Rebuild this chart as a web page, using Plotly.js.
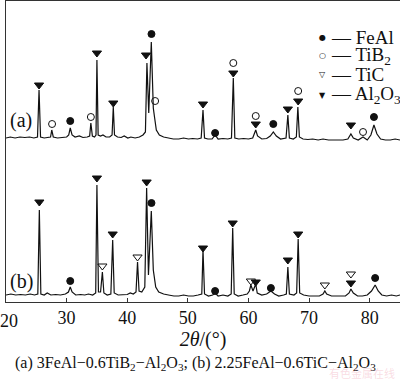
<!DOCTYPE html>
<html>
<head>
<meta charset="utf-8">
<script src="https://cdn.plot.ly/plotly-3.0.1.min.js"></script>
<style>html,body{margin:0;padding:0;background:#fff;}#chart{width:400px;height:380px;}</style>
</head>
<body>
<div id="chart"></div>
<script>
// ---- Data (2θ in degrees, intensity in arbitrary units above each pattern's baseline) ----
const twoThetaA = [20,20.7,21.5,22.3,23.1,23.9,24.6,25.2,25.45,25.7,26.3,27.0,27.35,27.55,27.8,28.5,29.3,30.0,30.35,30.6,30.9,31.4,32.1,32.7,33.4,33.8,34.0,34.25,34.6,34.85,35.0,35.2,35.6,36.0,36.5,37.1,37.5,37.7,37.9,38.4,39.0,39.5,40.1,40.6,41.3,42.0,42.6,43.0,43.25,43.55,43.97,44.3,44.5,44.8,45.3,46.0,46.8,47.6,48.5,49.3,50.1,50.8,51.6,52.2,52.5,52.75,53.3,54.0,54.5,55.0,55.8,56.6,57.2,57.5,57.75,58.4,59.2,60.0,60.7,61.0,61.2,61.5,62.2,63.0,63.6,64.1,64.6,65.3,66.2,66.5,66.75,67.4,67.9,68.15,68.4,69.0,69.8,70.6,71.5,72.3,73.2,74.0,74.8,75.6,76.4,76.9,77.3,78.1,78.9,79.6,80.2,80.7,81.2,81.8,82.6,83.4,84.2,85];
const intensityA = [0,1,0,1,0.5,1,0,1,48,1,0,1,1,8,1,0,0.5,1,3,10,3,1,2,0.5,1,2,15,2,1,3,78,3,2,3,1,1,3,31,3,1,0.5,2,0,1,0,1,3,6,75,25,96,30,21,8,3,1,0,-1,-1,0,-1,-0.5,-1,0,28,0,-1,-1,3,-1,-0.5,-1,0,60,0,-1,-0.5,-1,0,5,8,2,-1,-0.5,2,6,2,-1,0,23,0,-1,1,31,1,-1,-1.5,-1,-2,-1,-2,-2,-2,-2,-1,4,0,-2,1,-2,3,13,4,-1,-2,-2,-1,-2];

const twoThetaB = [20,20.8,21.6,22.4,23.2,24,24.7,25.25,25.5,25.75,26.3,26.8,27.4,28.2,29.0,29.8,30.3,30.6,30.9,31.5,32.3,33.0,33.6,34.3,34.8,35.0,35.25,35.6,35.9,36.15,36.7,37.3,37.6,37.85,38.5,39.3,40.0,40.5,41.0,41.45,41.7,41.95,42.4,42.9,43.2,43.5,43.97,44.3,44.7,45.2,46.0,46.8,47.7,48.5,49.3,50.1,50.9,51.7,52.3,52.5,52.75,53.4,54.1,54.5,55.0,55.8,56.6,57.15,57.4,57.65,58.3,59.1,59.8,60.15,60.4,60.75,61.2,61.45,62.2,63.0,63.7,64.3,65.0,65.8,66.25,66.5,66.75,67.5,67.95,68.2,68.45,69.1,70.0,70.8,71.7,72.3,72.6,72.9,73.7,74.5,75.3,76.0,76.6,76.9,77.3,78.0,78.8,79.6,80.3,80.9,81.4,82.0,82.8,83.6,84.4,85];
const intensityB = [0,1,0,0.5,0,1,0,1,85,1,0,2,0,0.5,0,1,3,8,3,0,0.5,0,1,0,2,110,3,3,23,2,0,1,55,2,0,0,0.5,2,1,3,33,4,3,8,107,20,84,25,8,3,1,0,-1,-1,0,-1,-1,0,1,45,1,-1,0,2,-1,0,-1,1,67,1,-1,0,1,4,10,4,11,2,0,1,4,1,-1,0,1,28,1,0,2,56,2,0,-1,-1,-1,1,4,1,-1,-1,-1,-1,2,6,2,-1,-1,0,4,10,4,0,-1,0,-1,0];

// Phase markers: pattern (a)
const aFeAlX = [30.6, 44.0, 54.5, 64.1, 80.7];
const aFeAlY = [17, 104, 5, 14, 21];
const aTiB2X = [27.6, 34.0, 44.6, 57.5, 61.2, 68.2, 78.9];
const aTiB2Y = [14, 21, 37, 75, 22, 47, 6];
const aAl2O3X = [25.45, 35.0, 37.7, 43.1, 52.5, 57.5, 61.2, 66.5, 68.2, 76.9];
const aAl2O3Y = [53, 85, 35, 83, 34, 65, 14, 29, 37, 13];
// Phase markers: pattern (b)
const bFeAlX = [30.6, 44.0, 54.5, 63.7, 80.9];
const bFeAlY = [14, 92, 4, 7, 17];
const bTiCX = [35.9, 41.7, 60.4, 72.6, 76.9];
const bTiCY = [29, 38, 14, 10, 21];
const bAl2O3X = [25.5, 35.0, 37.6, 43.2, 52.5, 57.4, 61.2, 66.5, 68.2, 76.9];
const bAl2O3Y = [93, 117, 61, 113, 47, 72, 13, 35, 61, 12];

const tickVals = [20, 30, 40, 50, 60, 70, 80];
const tickLabels = ["20", "30", "40", "50", "60", "70", "80"];
const patternLabels = ["(a)", "(b)"];
const legendSymbols = ["●", "○", "▽", "▼"];
const legendNames = ["FeAl", "TiB<sub>2</sub>", "TiC", "Al<sub>2</sub>O<sub>3</sub>"];
const xTitle = "<i>2θ</i>/(°)";
const caption = "(a) 3FeAl−0.6TiB<sub>2</sub>−Al<sub>2</sub>O<sub>3</sub>; (b) 2.25FeAl−0.6TiC−Al<sub>2</sub>O<sub>3</sub>";
const watermark = "有色金属在线";

// ---- Presentation ----
const offsetA = 164, offsetB = 7;
const shift = (arr, off) => arr.map(v => v + off);
const serif = "'Liberation Serif', 'Times New Roman', serif";
const ink = "#111";

function lineTrace(x, y, off) {
  return {x: x, y: shift(y, off), type: "scatter", mode: "lines",
          line: {color: ink, width: 1.2}, hoverinfo: "skip", showlegend: false};
}
function markerTrace(x, y, off, symbol, size) {
  return {x: x, y: shift(y, off), type: "scatter", mode: "markers",
          marker: {symbol: symbol, size: size, color: ink, line: {color: ink, width: 1}},
          hoverinfo: "skip", showlegend: false};
}

const data = [
  lineTrace(twoThetaA, intensityA, offsetA),
  lineTrace(twoThetaB, intensityB, offsetB),
  markerTrace(aFeAlX, aFeAlY, offsetA, "circle", 7),
  markerTrace(aTiB2X, aTiB2Y, offsetA, "circle-open", 7),
  markerTrace(aAl2O3X, aAl2O3Y, offsetA, "triangle-down", 8),
  markerTrace(bFeAlX, bFeAlY, offsetB, "circle", 7),
  markerTrace(bTiCX, bTiCY, offsetB, "triangle-down-open", 8),
  markerTrace(bAl2O3X, bAl2O3Y, offsetB, "triangle-down", 8)
];

const plotH = 301;
const pxToPaperY = py => (302 - py) / plotH;
const pxToPaperX = px => (px - 6) / 394;

// the first tick label sits at the very left edge; draw it as an annotation nudged inside the page
const tickText = tickLabels.map((t, i) => i === 0 ? "" : t);

const annotations = [];
annotations.push({text: tickLabels[0], xref: "paper", yref: "paper", x: 0, y: 0, xshift: -8, yshift: -7,
  xanchor: "left", yanchor: "top", showarrow: false, font: {family: serif, size: 18, color: ink}});
const labelPos = [[21, 121], [21.5, 281]];
patternLabels.forEach((t, i) => annotations.push({
  text: t, xref: "paper", yref: "paper", x: pxToPaperX(labelPos[i][0]), y: pxToPaperY(labelPos[i][1]),
  xanchor: "center", yanchor: "middle", showarrow: false, font: {family: serif, size: 20, color: ink}
}));
const legY = [37, 56, 75, 95];
legendSymbols.forEach((s, i) => {
  annotations.push({text: s, xref: "paper", yref: "paper", x: pxToPaperX(322), y: pxToPaperY(legY[i]),
    xanchor: "center", yanchor: "middle", showarrow: false, font: {family: "DejaVu Sans", size: 8, color: ink}});
  annotations.push({text: "— " + legendNames[i], xref: "paper", yref: "paper", x: pxToPaperX(329), y: pxToPaperY(legY[i]),
    xanchor: "left", yanchor: "middle", showarrow: false, font: {family: serif, size: 19, color: ink}});
});
annotations.push({text: caption, xref: "paper", yref: "paper", x: pxToPaperX(195), y: pxToPaperY(363),
  xanchor: "center", yanchor: "middle", showarrow: false, font: {family: serif, size: 16, color: ink}});
annotations.push({text: watermark, xref: "paper", yref: "paper", x: pxToPaperX(362), y: pxToPaperY(373),
  xanchor: "center", yanchor: "middle", showarrow: false, font: {family: "Noto Sans CJK SC", size: 11, color: "rgba(235,140,160,0.3)"}});

const layout = {
  width: 400, height: 380,
  margin: {l: 6, r: 0, t: 1, b: 78},
  paper_bgcolor: "#fff", plot_bgcolor: "#fff",
  showlegend: false,
  xaxis: {
    range: [20, 85], tickvals: tickVals, ticktext: tickText, ticks: "inside", ticklen: 4, tickcolor: "#333",
    showline: true, linecolor: "#333", linewidth: 1.2, mirror: true, showgrid: false, zeroline: false,
    ticklabelstandoff: -1,
    tickfont: {family: serif, size: 18, color: ink},
    title: {text: xTitle, font: {family: serif, size: 20, color: ink}, standoff: 5}
  },
  yaxis: {
    range: [0, plotH], showticklabels: false, ticks: "", showgrid: false, zeroline: false,
    showline: true, linecolor: "#333", linewidth: 1.2, mirror: false
  },
  annotations: annotations
};

Plotly.newPlot("chart", data, layout, {staticPlot: true, displayModeBar: false});
</script>
</body>
</html>
